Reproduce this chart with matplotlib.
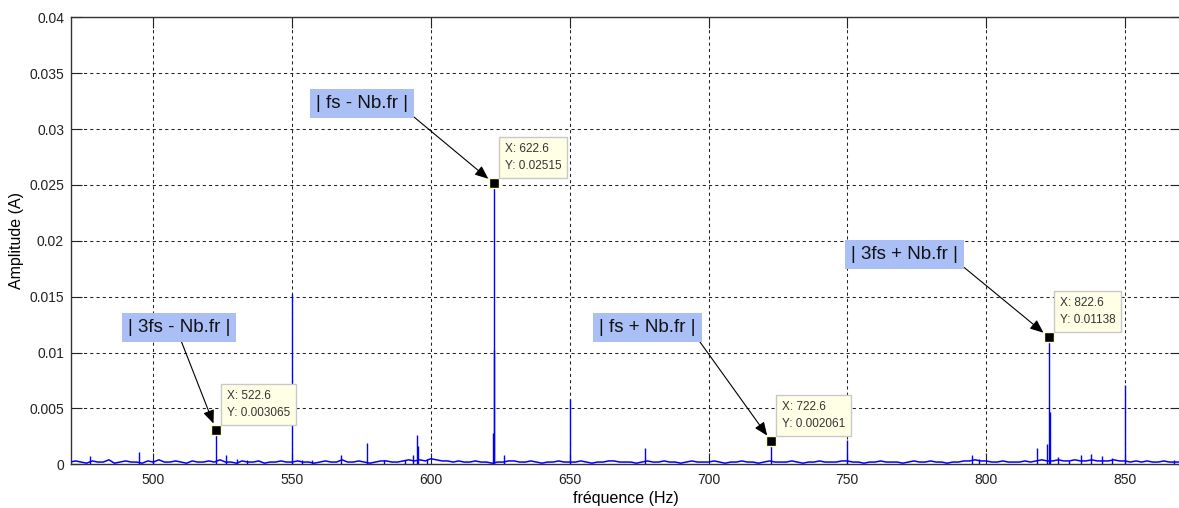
import numpy as np
import matplotlib
matplotlib.use("Agg")
from matplotlib import pyplot as plt

plt.rcParams['font.family'] = ['Liberation Sans', 'DejaVu Sans']

# noise floor of the spectrum, every 2 Hz from 470 to 870 Hz (units of 1e-4 A)
floor_freq = np.arange(470, 871, 2)
floor_amp_1e4 = [
    2, 3, 2, 1, 3, 2, 2, 4, 1, 2, 3, 2, 2, 1, 3, 2, 4, 2, 2, 3,
    2, 1, 3, 2, 2, 3, 2, 4, 2, 2, 1, 3, 2, 2, 3, 1, 2, 2, 3, 2,
    2, 3, 2, 2, 1, 2, 3, 2, 2, 4, 2, 2, 3, 2, 1, 2, 3, 3, 2, 2,
    3, 4, 3, 4, 3, 5, 4, 3, 3, 2, 3, 2, 2, 3, 2, 2, 1, 2, 2, 3,
    3, 2, 2, 3, 2, 1, 2, 2, 3, 2, 2, 2, 3, 2, 1, 2, 2, 3, 3, 2,
    2, 2, 1, 2, 3, 2, 2, 3, 2, 2, 1, 2, 3, 2, 2, 2, 3, 2, 1, 2,
    2, 3, 2, 2, 1, 2, 3, 2, 2, 2, 3, 2, 1, 2, 2, 3, 2, 2, 2, 3,
    3, 2, 2, 1, 2, 2, 3, 2, 2, 2, 1, 2, 3, 2, 2, 3, 2, 2, 1, 2,
    2, 3, 3, 4, 3, 3, 2, 2, 3, 2, 2, 2, 3, 2, 3, 4, 3, 3, 4, 3,
    3, 4, 3, 3, 4, 3, 3, 3, 4, 3, 3, 2, 3, 2, 3, 2, 2, 3, 2, 2,
    2,
]
floor_amp = np.array(floor_amp_1e4) * 1e-4

# raies secondaires
peak_freq = [477.2, 494.9, 500.0, 526.1, 530.3, 533.8, 550.0, 553.7, 557.3,
             567.5, 577.1, 583.1, 590.7, 593.6, 595.0, 595.4, 598.5, 622.3,
             622.9, 626.5, 650.0, 677.2, 750.0, 794.8, 797.4, 818.2, 822.1,
             822.9, 826.0, 829.9, 834.1, 837.9, 841.7, 845.5, 850.0, 867.7]
peak_amp = [0.00075, 0.0011, 0.0004, 0.0008, 0.0005, 0.0004, 0.0152, 0.0004, 0.0004,
            0.0008, 0.0019, 0.0004, 0.0004, 0.0008, 0.0026, 0.0016, 0.0005, 0.0028,
            0.0102, 0.0008, 0.0058, 0.0015, 0.0022, 0.0008, 0.0005, 0.00146, 0.0018,
            0.0047, 0.00065, 0.0003, 0.0008, 0.0009, 0.00075, 0.0006, 0.0071, 0.0004]

# raies pointees (data tips)
tip_freq = [522.6, 622.6, 722.6, 822.6]
tip_amp = [0.003065, 0.02515, 0.002061, 0.01138]
tip_labels = ['| 3fs - Nb.fr |', '| fs - Nb.fr |', '| fs + Nb.fr |', '| 3fs + Nb.fr |']
# position of each label box centre and where its arrow leaves the box
label_offset = [(-37, 103), (-132, 80), (-124, 114), (-144, 83)]
arrow_relpos = [(0.5, 0.0), (1.0, 0.0), (1.0, 0.0), (1.0, 0.0)]

xticks = [500, 550, 600, 650, 700, 750, 800, 850]
yticks = [0, 0.005, 0.01, 0.015, 0.02, 0.025, 0.03, 0.035, 0.04]
ytick_labels = ['0', '0.005', '0.01', '0.015', '0.02', '0.025', '0.03', '0.035', '0.04']

fig = plt.figure(figsize=(11.79, 5.08), dpi=100)
ax = fig.add_axes([71 / 1179, (508 - 464.3) / 508, 1110 / 1179, 447 / 508])

blue = '#0000ff'
ax.plot(floor_freq, floor_amp, color=blue, lw=1.1, zorder=3)
ax.vlines(peak_freq, 0, peak_amp, color=blue, lw=1.0, zorder=3)
ax.vlines(tip_freq, 0, tip_amp, color=blue, lw=1.0, zorder=3)

ax.set_xlim(470.35, 870.2)
ax.set_ylim(0, 0.04)
ax.set_xticks(xticks)
ax.set_xticklabels([str(t) for t in xticks])
ax.set_yticks(yticks)
ax.set_yticklabels(ytick_labels)
ax.tick_params(direction='in', length=8, width=0.8, top=True, right=True,
               labelsize=10, colors='#222222')
ax.tick_params(axis='x', pad=6)
ax.tick_params(axis='y', pad=5)
ax.grid(True, color='#222222', linestyle=(0, (3, 3)), lw=0.75, zorder=1)
ax.set_axisbelow(True)
for sp in ax.spines.values():
    sp.set_color('#333333')
    sp.set_linewidth(1.0)

ax.set_xlabel('fréquence (Hz)', fontsize=11.5, labelpad=3)
ax.set_ylabel('Amplitude (A)', fontsize=11.5, labelpad=4)

for f, v, lab, off, rp in zip(tip_freq, tip_amp, tip_labels, label_offset, arrow_relpos):
    # data tip: marker + yellow box
    ax.plot(f, v, 's', color='black', ms=7, mec='#ffffc8', mew=1.0, zorder=6)
    ax.annotate(f'X: {f:g}\nY: {v:.4g}', xy=(f, v), xytext=(11, 11),
                textcoords='offset pixels', ha='left', va='bottom',
                fontsize=8.5, color='#333333', linespacing=1.6, zorder=7,
                bbox=dict(boxstyle='square,pad=0.5', fc='#ffffe6', ec='#c8c8c8', lw=1.0))
    # label with arrow
    ax.annotate(lab, xy=(f, v), xytext=off, textcoords='offset pixels',
                ha='center', va='center', fontsize=13.5, color='#111111', zorder=8,
                bbox=dict(boxstyle='square,pad=0.32', fc='#aabff5', ec='none'),
                arrowprops=dict(arrowstyle='-|>,head_length=0.6,head_width=0.25',
                                color='black', lw=0.8, relpos=rp,
                                shrinkA=0, shrinkB=5))

plt.savefig('out.png', dpi=100)
